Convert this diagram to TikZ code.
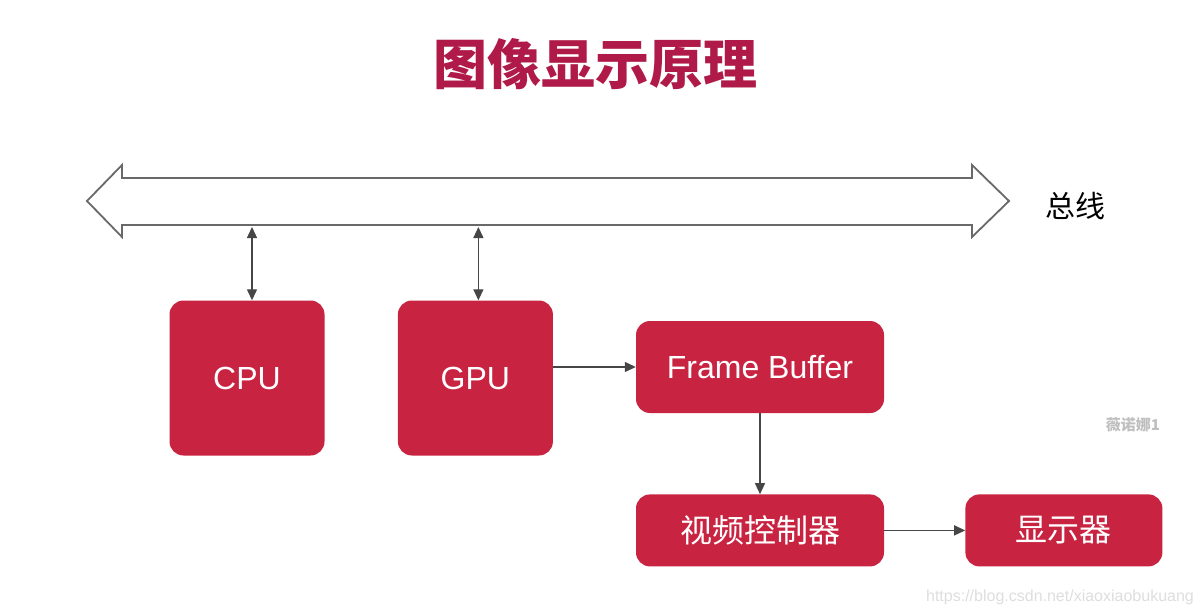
\documentclass[tikz,border=0pt]{standalone}
\usepackage{fontspec}
\setmainfont{Liberation Sans}
\newfontfamily\cjk{Noto Sans CJK SC}
\usetikzlibrary{arrows.meta, positioning}
\definecolor{boxred}{RGB}{200,36,66}
\definecolor{titlered}{RGB}{176,26,72}
\definecolor{linegray}{RGB}{70,70,70}
\definecolor{busgray}{RGB}{105,105,105}

\begin{document}
\begin{tikzpicture}[x=1pt, y=-1pt,
  block/.style={rectangle, rounded corners=14pt, fill=boxred, text=white, inner sep=0pt, font=\fontsize{32}{36}\selectfont},
  arr/.style={-{Triangle[length=11pt,width=10pt]}, line width=1.3pt, linegray},
  darr/.style={{Triangle[length=11pt,width=10pt]}-{Triangle[length=11pt,width=10pt]}, line width=1.3pt, linegray},
  bus/.style={draw=busgray, line width=1.8pt, fill=white, line join=miter}
]
\useasboundingbox[fill=white] (0,0) rectangle (1200,615);

\node[font=\cjk\bfseries\fontsize{54}{60}\selectfont, text=titlered] (title) at (595,64) {图像显示原理};

% bus
\draw[bus] (87,201) -- (122,165) -- (122,178) -- (972,178) -- (972,165) -- (1009,201)
  -- (972,237) -- (972,225) -- (122,225) -- (122,237) -- cycle;
\node[font=\cjk\fontsize{30}{34}\selectfont] (buslabel) at (1075,206) {总线};
\coordinate (busbot) at (0,227);

\node[block, minimum width=155pt, minimum height=155pt] (cpu) at (247,378) {CPU};
\node[block, minimum width=155pt, minimum height=155pt, right=73pt of cpu] (gpu) {GPU};
\node[block, minimum width=248pt, minimum height=92pt] (fb) at (760,367) {Frame Buffer};
\node[block, minimum width=248pt, minimum height=72pt, below=81pt of fb] (vc) {\cjk 视频控制器};
\node[block, minimum width=197pt, minimum height=72pt, right=81pt of vc] (disp) {\cjk 显示器};

\draw[darr] ([xshift=5pt]cpu.north |- busbot) -- ([xshift=5pt]cpu.north);
\draw[darr] ([xshift=3pt]gpu.north |- busbot) -- ([xshift=3pt]gpu.north);
\draw[arr] (gpu.east |- fb.west) -- (fb.west);
\draw[arr] (fb) -- (vc);
\draw[arr] (vc) -- (disp);

\node[font=\cjk\bfseries\fontsize{15}{18}\selectfont, text=black!25] (mark) at (1133,425) {薇诺娜1};
\node[font=\fontsize{16}{18}\selectfont, text=black!13] (url) at (1060,597) {https://blog.csdn.net/xiaoxiaobukuang};
\end{tikzpicture}
\end{document}
